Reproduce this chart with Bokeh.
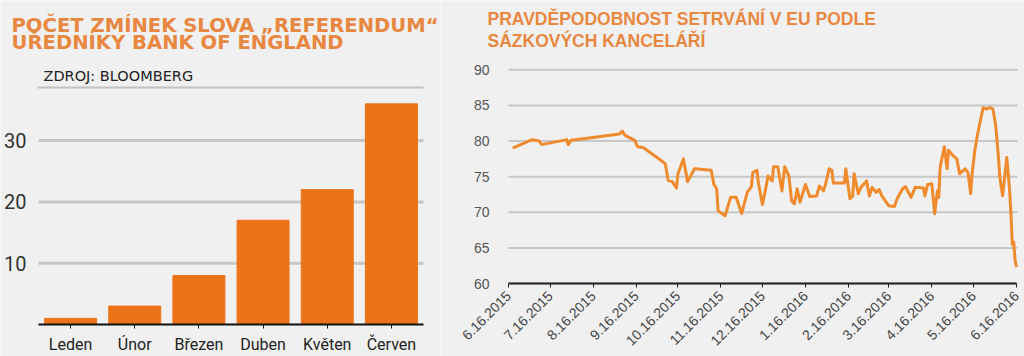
from math import pi
import pandas as pd
from bokeh.plotting import figure
from bokeh.layouts import row
from bokeh.models import Range1d, FixedTicker, Label
from bokeh.embed import file_html
from bokeh.resources import INLINE

# ---------------- data ----------------
months = ["Leden", "Únor", "Březen", "Duben", "Květen", "Červen"]
mentions = [1, 3, 8, 17, 22, 36]
bar_ticks = [10, 20, 30]

dates = [
    "2015-06-19", "2015-07-03", "2015-07-08", "2015-07-10", "2015-07-28", "2015-07-29",
    "2015-07-31", "2015-08-16", "2015-09-04", "2015-09-06", "2015-09-08", "2015-09-15",
    "2015-09-17", "2015-09-21", "2015-10-03", "2015-10-07", "2015-10-09", "2015-10-12",
    "2015-10-15", "2015-10-16", "2015-10-20", "2015-10-23", "2015-10-28", "2015-11-09",
    "2015-11-11", "2015-11-13", "2015-11-14", "2015-11-19", "2015-11-23", "2015-11-27",
    "2015-12-01", "2015-12-05", "2015-12-08", "2015-12-09", "2015-12-12", "2015-12-13",
    "2015-12-16", "2015-12-18", "2015-12-20", "2015-12-23", "2015-12-24", "2015-12-27",
    "2015-12-30", "2016-01-01", "2016-01-04", "2016-01-06", "2016-01-08", "2016-01-10",
    "2016-01-12", "2016-01-16", "2016-01-19", "2016-01-24", "2016-01-26", "2016-01-29",
    "2016-01-31", "2016-02-02", "2016-02-04", "2016-02-05", "2016-02-13", "2016-02-14",
    "2016-02-17", "2016-02-19", "2016-02-20", "2016-02-23", "2016-02-25", "2016-02-29",
    "2016-03-02", "2016-03-04", "2016-03-07", "2016-03-09", "2016-03-11", "2016-03-16",
    "2016-03-20", "2016-03-22", "2016-03-26", "2016-03-28", "2016-04-01", "2016-04-04",
    "2016-04-10", "2016-04-11", "2016-04-13", "2016-04-16", "2016-04-18", "2016-04-20",
    "2016-04-21", "2016-04-22", "2016-04-25", "2016-04-27", "2016-04-28", "2016-05-01",
    "2016-05-04", "2016-05-06", "2016-05-10", "2016-05-12", "2016-05-14", "2016-05-15",
    "2016-05-17", "2016-05-19", "2016-05-22", "2016-05-23", "2016-05-25", "2016-05-28",
    "2016-05-30", "2016-06-01", "2016-06-03", "2016-06-04", "2016-06-06", "2016-06-08",
    "2016-06-09", "2016-06-11", "2016-06-12", "2016-06-13", "2016-06-14", "2016-06-15",
    "2016-06-16",
]
stay_prob = [
    79.0, 80.2, 80.0, 79.5, 80.2, 79.5,
    80.1, 80.5, 81.0, 81.4, 80.8, 80.1,
    79.2, 79.1, 77.4, 76.8, 74.5, 74.3,
    73.4, 75.3, 77.5, 74.3, 76.1, 75.9,
    73.9, 73.3, 70.2, 69.5, 72.1, 72.1,
    69.8, 72.8, 73.6, 75.6, 75.9, 74.2,
    71.1, 73.0, 75.1, 74.4, 76.4, 76.4,
    73.0, 76.4, 75.1, 71.6, 71.2, 73.3,
    71.4, 73.9, 72.2, 72.3, 73.7, 73.0,
    74.4, 76.1, 75.9, 74.1, 74.1, 76.1,
    71.9, 72.3, 75.4, 72.6, 73.5, 74.4,
    72.3, 73.5, 72.8, 73.2, 72.3, 70.9,
    70.8, 71.9, 73.3, 73.6, 72.1, 73.5,
    73.4, 72.3, 73.9, 74.0, 69.8, 73.0,
    72.1, 76.3, 79.2, 76.1, 78.7, 78.0,
    77.5, 75.4, 76.1, 75.6, 72.6, 75.4,
    78.7, 81.0, 83.8, 84.7, 84.5, 84.7,
    84.5, 82.2, 77.7, 74.9, 72.3, 75.9,
    77.7, 73.2, 69.8, 65.5, 65.8, 63.2,
    62.3,
]
tick_dates = ["2015-06-16", "2015-07-16", "2015-08-16", "2015-09-16", "2015-10-16",
              "2015-11-16", "2015-12-16", "2016-01-16", "2016-02-16", "2016-03-16",
              "2016-04-16", "2016-05-16", "2016-06-16"]
tick_labels = ["6.16.2015", "7.16.2015", "8.16.2015", "9.16.2015", "10.16.2015",
               "11.16.2015", "12.16.2015", "1.16.2016", "2.16.2016", "3.16.2016",
               "4.16.2016", "5.16.2016", "6.16.2016"]
line_ticks = [60, 65, 70, 75, 80, 85, 90]

BG = "#f0f0f0"
TITLE_C = "#e8873f"
BAR_C = "#ec7317"
LINE_C = "#ef8a2d"
GRID_C = "#c6c6c6"

H = 356   # each frame covers its whole canvas; axes are placed with fixed_location

def style_common(p):
    p.grid.visible = False
    p.background_fill_color = BG
    p.border_fill_color = BG
    p.outline_line_color = None

# ---------------- left: bars ----------------
LW = 440
L_X0, L_X1 = 38, 423           # page x of the category band
l_ppu_x = (L_X1 - L_X0) / len(months)
l_ppu_y = 6.13                 # px per count unit
l_zero_py = 324                # page y of the zero line

def lx(px):   # page x -> category coordinate
    return (px - L_X0) / l_ppu_x

def ly(py):   # page y -> count value
    return (l_zero_py - py) / l_ppu_y

centers = [i + 0.5 for i in range(len(months))]

p1 = figure(width=LW, height=H, x_range=Range1d(lx(0), lx(LW)), y_range=Range1d(ly(H), ly(0)),
            output_backend="svg", toolbar_location=None,
            min_border=0, min_border_left=0, min_border_right=0, min_border_top=0,
            min_border_bottom=0)
style_common(p1)
n_bt = len(bar_ticks)
p1.segment(x0=[0] * n_bt, x1=[len(months)] * n_bt, y0=bar_ticks, y1=bar_ticks,
           line_color=GRID_C, line_width=3)
p1.segment(x0=[lx(37)], x1=[lx(L_X1)], y0=[ly(87)], y1=[ly(87)], line_color="#c2c2c2",
           line_width=2)
p1.vbar(x=centers, top=mentions, bottom=0, width=0.81, color=BAR_C)

p1.yaxis.fixed_location = 0
p1.yaxis.ticker = FixedTicker(ticks=bar_ticks)
p1.yaxis.axis_line_color = None
p1.yaxis.major_tick_line_color = None
p1.yaxis.minor_tick_line_color = None
p1.yaxis.major_label_standoff = 6
p1.yaxis.major_label_text_font = "Roboto"
p1.yaxis.major_label_text_font_size = "20px"
p1.yaxis.major_label_text_color = "#333333"

p1.xaxis.fixed_location = 0
p1.xaxis.bounds = (0, len(months))
p1.xaxis.ticker = FixedTicker(ticks=centers)
p1.xaxis.major_label_overrides = {c: m for c, m in zip(centers, months)}
p1.xaxis.minor_tick_line_color = None
p1.xaxis.axis_line_color = "#111111"
p1.xaxis.axis_line_width = 2
p1.xaxis.major_tick_line_color = "#111111"
p1.xaxis.major_tick_out = 4
p1.xaxis.major_tick_in = 0
p1.xaxis.major_label_standoff = 6
p1.xaxis.major_label_text_font = "Roboto"
p1.xaxis.major_label_text_font_size = "16px"
p1.xaxis.major_label_text_color = "#222222"

p1.add_layout(Label(x=lx(11), y=ly(25), text="POČET ZMÍNEK SLOVA „REFERENDUM“",
                    text_font="DejaVu Sans", text_font_style="bold", text_font_size="19.6px",
                    text_color=TITLE_C, text_baseline="alphabetic"))
p1.add_layout(Label(x=lx(11), y=ly(42), text="UŘEDNÍKY BANK OF ENGLAND",
                    text_font="DejaVu Sans", text_font_style="bold", text_font_size="19.6px",
                    text_color=TITLE_C, text_baseline="alphabetic"))
p1.add_layout(Label(x=lx(43), y=ly(75), text="ZDROJ: BLOOMBERG",
                    text_font="DejaVu Sans", text_font_size="14.5px",
                    text_color="#222222", text_baseline="alphabetic"))

# ---------------- right: line ----------------
RW = 584
R_X0, R_X1 = 68, 576           # figure x of first / last date tick
r_ppu_y = 7.123
axis_py = 283                  # page y of the 60 line

dt = pd.to_datetime(dates)
tdt = pd.to_datetime(tick_dates)
tick_ms = [float(t.value // 10**6) for t in tdt]
span_ms = tick_ms[-1] - tick_ms[0]

def rx(px):   # figure x -> ms
    return tick_ms[0] + (px - R_X0) / (R_X1 - R_X0) * span_ms

def ry(py):   # page y -> value
    return 60 + (axis_py - py) / r_ppu_y

p2 = figure(width=RW, height=H, x_axis_type="datetime",
            x_range=Range1d(rx(0), rx(RW)), y_range=Range1d(ry(H), ry(0)),
            output_backend="svg", toolbar_location=None,
            min_border=0, min_border_left=0, min_border_right=0, min_border_top=0,
            min_border_bottom=0)
style_common(p2)
n_lt = len(line_ticks)
p2.segment(x0=[tick_ms[0]] * n_lt, x1=[rx(R_X1 + 1)] * n_lt, y0=line_ticks, y1=line_ticks,
           line_color=GRID_C, line_width=2)
p2.line(dt, stay_prob, line_color=LINE_C, line_width=3, line_join="round")

p2.yaxis.fixed_location = tick_ms[0]
p2.yaxis.ticker = FixedTicker(ticks=line_ticks)
p2.yaxis.axis_line_color = None
p2.yaxis.major_tick_line_color = None
p2.yaxis.minor_tick_line_color = None
p2.yaxis.major_label_standoff = 13
p2.yaxis.major_label_text_font = "Liberation Sans"
p2.yaxis.major_label_text_font_size = "14px"
p2.yaxis.major_label_text_color = "#555555"

p2.xaxis.fixed_location = 60
p2.xaxis.bounds = (tick_ms[0], tick_ms[-1])
p2.xaxis.ticker = FixedTicker(ticks=tick_ms)
p2.xaxis.major_label_overrides = {k: v for k, v in zip(tick_ms, tick_labels)}
p2.xaxis.major_label_orientation = pi / 4
p2.xaxis.axis_line_color = "#222222"
p2.xaxis.axis_line_width = 2
p2.xaxis.major_tick_line_color = "#222222"
p2.xaxis.major_tick_out = 4
p2.xaxis.major_tick_in = 0
p2.xaxis.minor_tick_line_color = None
p2.xaxis.major_label_standoff = 6
p2.xaxis.major_label_text_font = "Liberation Sans"
p2.xaxis.major_label_text_font_size = "14px"
p2.xaxis.major_label_text_color = "#444444"

p2.add_layout(Label(x=rx(47), y=ry(18.5), text="PRAVDĚPODOBNOST SETRVÁNÍ V EU PODLE",
                    text_font="Liberation Sans", text_font_style="bold",
                    text_font_size="17.5px", text_color=TITLE_C, text_baseline="alphabetic"))
p2.add_layout(Label(x=rx(47), y=ry(40), text="SÁZKOVÝCH KANCELÁŘÍ",
                    text_font="Liberation Sans", text_font_style="bold",
                    text_font_size="17.5px", text_color=TITLE_C, text_baseline="alphabetic"))

layout = row(p1, p2)
open("out.html", "w").write(file_html(layout, INLINE))
